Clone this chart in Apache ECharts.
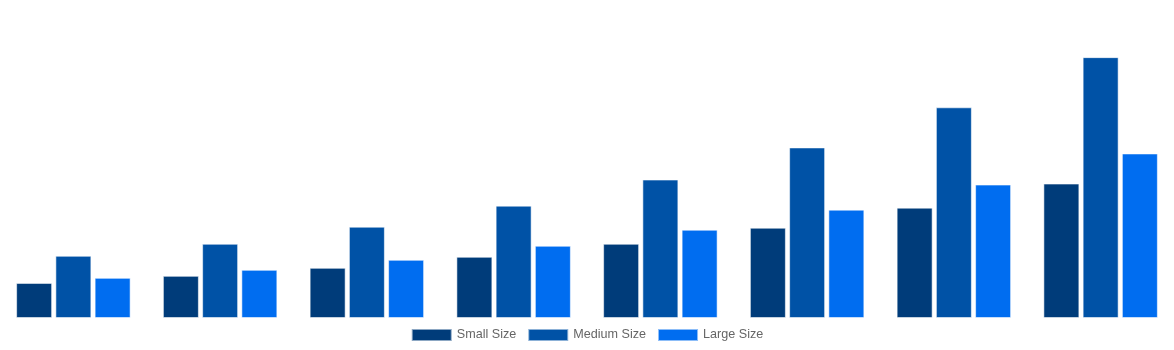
<!DOCTYPE html>
<html><head><meta charset="utf-8">
<script src="https://cdn.jsdelivr.net/npm/echarts@6/dist/echarts.min.js"></script>
<style>html,body{margin:0;padding:0;background:#fff}#c{width:1174px;height:350px}</style>
</head><body><div id="c"></div>
<script>
const categories = ['1','2','3','4','5','6','7','8'];
const smallSize = [35, 42, 50, 61, 74, 90, 110, 134];
const mediumSize = [62, 74, 91, 112, 138, 170, 210, 260];
const largeSize = [40, 48, 58, 72, 88, 108, 133, 164];
const seriesNames = ['Small Size', 'Medium Size', 'Large Size'];
const colors = ['#003c7a', '#0052a6', '#006df0'];

const chart = echarts.init(document.getElementById('c'));
const border = { borderColor: 'rgba(255,255,255,0.55)', borderWidth: 1 };
chart.setOption({
  animation: false,
  color: colors,
  grid: { left: 0, right: 0, top: 17, bottom: 32, containLabel: false },
  legend: {
    bottom: 3, left: 'center',
    itemWidth: 40, itemHeight: 12, itemGap: 11,
    icon: 'rect',
    textStyle: { color: '#666', fontSize: 12.6, fontFamily: '"Liberation Sans", Arial, sans-serif' },
    data: seriesNames
  },
  xAxis: { type: 'category', data: categories, show: false },
  yAxis: { type: 'value', min: 0, max: 300, show: false },
  series: [
    { name: seriesNames[0], type: 'bar', data: smallSize, barWidth: 36, barGap: '9%', itemStyle: border },
    { name: seriesNames[1], type: 'bar', data: mediumSize, barWidth: 36, barGap: '9%', itemStyle: border },
    { name: seriesNames[2], type: 'bar', data: largeSize, barWidth: 36, barGap: '9%', itemStyle: border }
  ]
});
</script></body></html>
